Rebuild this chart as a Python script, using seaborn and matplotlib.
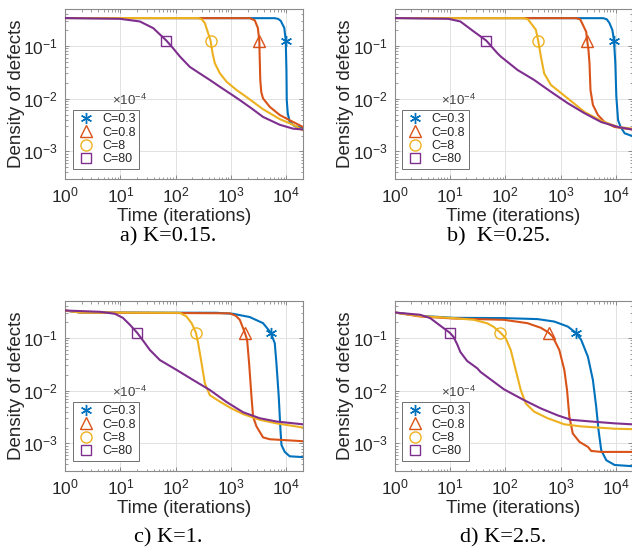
import numpy as np
import pandas as pd
import matplotlib
matplotlib.use("Agg")
import matplotlib.pyplot as plt
import seaborn as sns
from matplotlib.ticker import LogLocator, NullFormatter, LogFormatterSciNotation

# ---------------- data: defect density vs. time (iterations) ----------------
# panel a) K=0.15
a_t_c03 = [1, 6180, 7140, 7920, 9170, 9750, 10040, 10170, 10600, 11500, 14180, 20000]
a_d_c03 = [0.337, 0.335, 0.324, 0.298, 0.220, 0.126, 0.035, 0.0094, 0.0053, 0.0036, 0.0030, 0.0028]
a_t_c08 = [1, 2185, 2690, 3050, 3245, 3310, 3380, 3525, 3795, 5010, 7600, 11500, 20000]
a_d_c08 = [0.337, 0.335, 0.305, 0.220, 0.126, 0.054, 0.0226, 0.0133, 0.0101, 0.0070, 0.0049, 0.0039, 0.0029]
a_t_c8 = [1, 255, 297, 337, 386, 427, 464, 510, 628, 829, 1257, 1914, 3795, 7600, 13200, 20000]
a_d_c8 = [0.337, 0.337, 0.319, 0.270, 0.174, 0.126, 0.0726, 0.0469, 0.0303, 0.0210, 0.0146, 0.0107, 0.0063, 0.0041, 0.0032, 0.0025]
a_t_c80 = [1, 9.8, 22.6, 39.3, 68, 90, 119, 180, 273, 414, 628, 951, 1442, 2370, 3795, 7600, 13200, 20000]
a_d_c80 = [0.337, 0.326, 0.290, 0.217, 0.126, 0.090, 0.063, 0.040, 0.030, 0.0226, 0.0168, 0.0126, 0.0094, 0.0065, 0.0045, 0.0032, 0.0027, 0.0026]

# panel b) K=0.25
b_t_c03 = [1, 5930, 6860, 7620, 8640, 9270, 9790, 10210, 10970, 12220, 14450, 20000]
b_d_c03 = [0.337, 0.335, 0.319, 0.274, 0.201, 0.126, 0.047, 0.0109, 0.0039, 0.0029, 0.0022, 0.00195]
b_t_c08 = [1, 1914, 2260, 2535, 2910, 3035, 3200, 3340, 3480, 3850, 4740, 6250, 9510, 20000]
b_d_c08 = [0.337, 0.335, 0.320, 0.251, 0.185, 0.126, 0.084, 0.047, 0.0146, 0.0076, 0.0049, 0.0036, 0.0029, 0.0026]
b_t_c8 = [1, 217, 257, 291, 359, 395, 442, 507, 671, 1352, 2710, 5450, 10970, 20000]
b_d_c8 = [0.337, 0.335, 0.320, 0.270, 0.201, 0.126, 0.063, 0.030, 0.0182, 0.0101, 0.0056, 0.0038, 0.0029, 0.0027]
b_t_c80 = [1, 9.4, 15.5, 27.1, 45.5, 72, 83, 167, 334, 671, 1352, 2710, 5450, 10970, 20000]
b_d_c80 = [0.337, 0.326, 0.290, 0.187, 0.126, 0.073, 0.063, 0.035, 0.0226, 0.0135, 0.0082, 0.0053, 0.0036, 0.0029, 0.0026]

# panel c) K=1
c_t_c03 = [1, 1.87, 547, 1091, 2185, 3795, 5225, 6180, 6620, 7290, 7830, 8170, 9360, 11500, 20000]
c_d_c03 = [0.330, 0.303, 0.299, 0.286, 0.248, 0.190, 0.126, 0.079, 0.033, 0.0077, 0.0018, 0.00093, 0.00069, 0.00057, 0.00055]
c_t_c08 = [1, 1.87, 951, 1222, 1442, 1775, 1954, 2124, 2345, 2506, 2885, 3795, 5010, 20000]
c_d_c08 = [0.330, 0.303, 0.292, 0.262, 0.220, 0.126, 0.092, 0.033, 0.0077, 0.0032, 0.0021, 0.0013, 0.0012, 0.0011]
c_t_c8 = [1, 1.87, 119, 157, 194, 232, 255, 294, 337, 414, 628, 1021, 1653, 3310, 6620, 20000]
c_d_c8 = [0.330, 0.303, 0.299, 0.254, 0.190, 0.126, 0.079, 0.033, 0.0138, 0.0082, 0.0062, 0.0046, 0.0036, 0.0028, 0.0024, 0.0020]
c_t_c80 = [1, 4.3, 8, 11.1, 14.9, 20, 25.9, 34.2, 51.8, 104, 207, 414, 829, 1653, 3310, 6620, 20000]
c_d_c80 = [0.330, 0.312, 0.286, 0.240, 0.177, 0.126, 0.088, 0.059, 0.038, 0.0247, 0.0159, 0.0103, 0.0061, 0.0039, 0.0030, 0.0026, 0.0023]

# panel d) K=2.5
d_t_c03 = [1, 2.91, 11.7, 95, 385, 771, 1352, 1875, 2360, 3125, 3850, 4420, 4860, 5450, 6720, 9510, 20000]
d_d_c03 = [0.303, 0.262, 0.240, 0.237, 0.227, 0.204, 0.164, 0.126, 0.092, 0.044, 0.0159, 0.0049, 0.0018, 0.00074, 0.00048, 0.00039, 0.00037]
d_t_c08 = [1, 2.91, 11.7, 95, 253, 442, 610, 721, 951, 1172, 1312, 1445, 1667, 2200, 3125, 3590, 5450, 20000]
d_d_c08 = [0.303, 0.254, 0.233, 0.220, 0.190, 0.155, 0.126, 0.106, 0.059, 0.0247, 0.0103, 0.0032, 0.00154, 0.00107, 0.00086, 0.00072, 0.00069, 0.00069]
d_t_c8 = [1, 2.91, 11.7, 27.1, 47.5, 61.8, 82, 102, 126, 155, 191, 236, 334, 585, 1172, 2360, 9510, 20000]
d_d_c8 = [0.303, 0.259, 0.237, 0.220, 0.189, 0.162, 0.126, 0.099, 0.059, 0.0247, 0.0103, 0.0057, 0.0040, 0.0030, 0.0023, 0.0021, 0.0019, 0.00186]
d_t_c80 = [1, 2.91, 4.42, 5.85, 7.71, 9.9, 11.7, 13.7, 15.5, 20.5, 31.3, 35.9, 95, 220, 442, 889, 1552, 3590, 9510, 20000]
d_d_c80 = [0.303, 0.274, 0.237, 0.190, 0.153, 0.126, 0.104, 0.074, 0.054, 0.0366, 0.0265, 0.0226, 0.0106, 0.0066, 0.0046, 0.0034, 0.0028, 0.0026, 0.0024, 0.0023]

# marker positions (time) on each curve, all at the same density level
a_mark_t = [9750, 3245, 427, 68]
b_mark_t = [9270, 3035, 395, 45.5]
c_mark_t = [5225, 1775, 232, 20]
d_mark_t = [1875, 610, 82, 9.9]
mark_d = 0.126

series_labels = ["C=0.3", "C=0.8", "C=8", "C=80"]
captions = ["a) K=0.15.", "b)  K=0.25.", "c) K=1.", "d) K=2.5."]

# ---------------- style ----------------
sns.set_theme(style="ticks")
plt.rcParams["font.family"] = ["Liberation Sans", "DejaVu Sans"]
plt.rcParams["mathtext.fontset"] = "custom"
plt.rcParams["mathtext.rm"] = "Liberation Sans"
plt.rcParams["mathtext.it"] = "Liberation Sans:italic"

colors = ["#0072BD", "#D95319", "#EDB120", "#7E2F8E"]
markers = [(6, 2, 0), "^", "o", "s"]
msizes = [8, 8.5, 8, 6.5]
text_col = "#262626"

panels = [
    ([a_t_c03, a_t_c08, a_t_c8, a_t_c80], [a_d_c03, a_d_c08, a_d_c8, a_d_c80], a_mark_t),
    ([b_t_c03, b_t_c08, b_t_c8, b_t_c80], [b_d_c03, b_d_c08, b_d_c8, b_d_c80], b_mark_t),
    ([c_t_c03, c_t_c08, c_t_c8, c_t_c80], [c_d_c03, c_d_c08, c_d_c8, c_d_c80], c_mark_t),
    ([d_t_c03, d_t_c08, d_t_c8, d_t_c80], [d_d_c03, d_d_c08, d_d_c8, d_d_c80], d_mark_t),
]

W, H = 632, 550
fig = plt.figure(figsize=(W / 100, H / 100), dpi=100)

ax_w, ax_h = 238, 170
ax_pos = [(65, 9), (394.5, 9), (65, 301), (394.5, 301)]
cap_pos = [(168, 237), (499, 237), (168.5, 538), (503, 538)]

for i, (ts, ds, mts) in enumerate(panels):
    left, top = ax_pos[i]
    ax = fig.add_axes([left / W, 1 - (top + ax_h) / H, ax_w / W, ax_h / H])
    ax.set_xscale("log")
    ax.set_yscale("log")
    ax.set_xlim(1, 2e4)
    ax.set_ylim(3e-4, 0.5)

    for k in range(4):
        df = pd.DataFrame({"t": ts[k], "d": ds[k]})
        sns.lineplot(data=df, x="t", y="d", ax=ax, color=colors[k], lw=1.5,
                     sort=False, estimator=None, legend=False, zorder=3)
    for k in range(4):
        ax.plot([mts[k]], [mark_d], linestyle="none", marker=markers[k],
                ms=msizes[k], mfc="none", mec=colors[k], mew=1.0,
                label=series_labels[k], zorder=4)

    ax.grid(True, which="major", color="#e2e2e2", lw=0.7, zorder=0)
    ax.set_axisbelow(True)
    ax.xaxis.set_major_locator(LogLocator(base=10, numticks=10))
    ax.xaxis.set_minor_locator(LogLocator(base=10, subs=np.arange(2, 10), numticks=20))
    ax.yaxis.set_major_locator(LogLocator(base=10, numticks=10))
    ax.yaxis.set_minor_locator(LogLocator(base=10, subs=np.arange(2, 10), numticks=20))
    ax.xaxis.set_major_formatter(LogFormatterSciNotation())
    ax.yaxis.set_major_formatter(LogFormatterSciNotation())
    ax.xaxis.set_minor_formatter(NullFormatter())
    ax.yaxis.set_minor_formatter(NullFormatter())
    ax.tick_params(which="both", direction="in", top=True, right=True,
                   colors="#8a8a8a", labelcolor=text_col, labelsize=12.5)
    ax.tick_params(which="major", length=3.2, width=0.7, pad=5)
    ax.tick_params(which="minor", length=1.8, width=0.6)
    for sp in ax.spines.values():
        sp.set_color("#8a8a8a")
        sp.set_linewidth(0.8)

    ax.set_xlabel("Time (iterations)", fontsize=13.5, color=text_col)
    ax.set_ylabel("Density of defects", fontsize=13.5, color=text_col)
    ax.xaxis.set_label_coords(0.5, -0.168)
    ax.yaxis.set_label_coords(-0.17, 0.5)

    leg = ax.legend(loc="lower left", bbox_to_anchor=(0.032, 0.059),
                    borderaxespad=0, fontsize=9, frameon=True, fancybox=False,
                    framealpha=1, edgecolor="#5a5a5a", handlelength=1.5,
                    handletextpad=0.55, labelspacing=0.1, borderpad=0.3)
    leg.get_frame().set_linewidth(0.6)
    for txt in leg.get_texts():
        txt.set_color(text_col)

    ax.text(0.196, 0.465, r"$\mathdefault{\times10^{-4}}$", transform=ax.transAxes,
            fontsize=9.5, color="#404040", ha="left", va="center")

    cx, cy = cap_pos[i]
    fig.text(cx / W, 1 - cy / H, captions[i], fontsize=16, ha="center", va="center",
             family=["Liberation Serif", "DejaVu Serif"], color="black")

fig.savefig("out.png", dpi=100)
